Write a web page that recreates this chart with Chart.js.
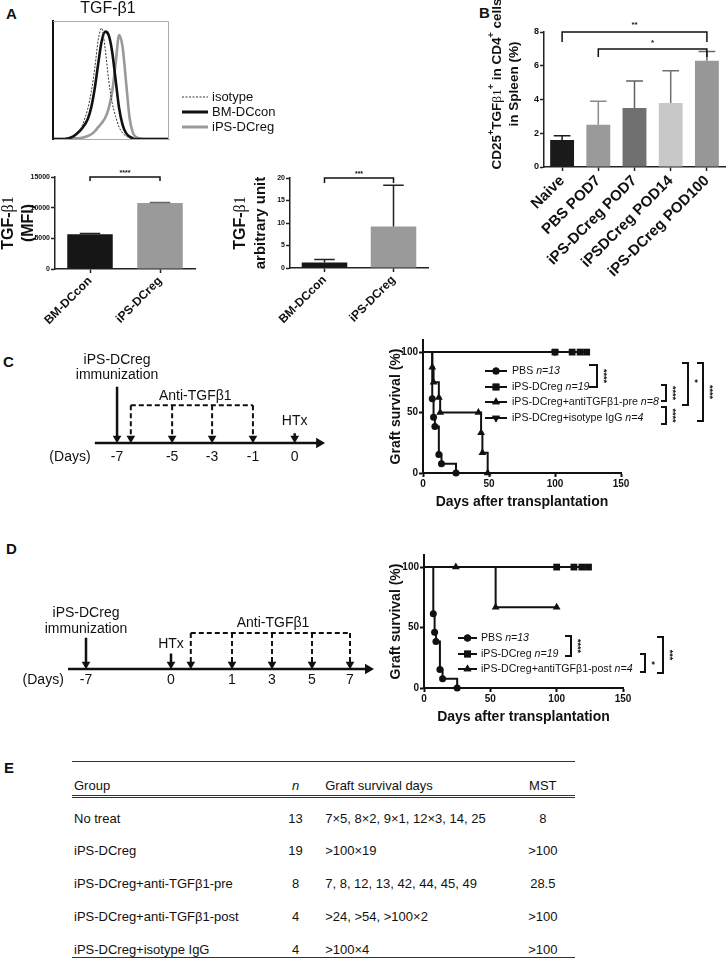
<!DOCTYPE html>
<html>
<head>
<meta charset="utf-8">
<script src="https://cdn.jsdelivr.net/npm/chart.js@4.4.1/dist/chart.umd.min.js"></script>
<style>
  body { margin: 0; background: #fff; width: 727px; height: 958px; position: relative; overflow: hidden;
         font-family: "Liberation Sans", Arial, Helvetica, sans-serif; color: #111; }
  canvas { position: absolute; }
  .panel { position: absolute; font-weight: bold; font-size: 15px; line-height: 16px; }
  #tbl { position: absolute; left: 72px; top: 761px; width: 503px; border-collapse: collapse; font-size: 13px; }
  #tbl th { font-weight: normal; text-align: left; height: 31px; vertical-align: bottom; padding: 0 0 2px 0;
            border-top: 1px solid #333; border-bottom: 3px double #333; }
  #tbl td { height: 33px; vertical-align: top; padding: 13px 0 0 0; box-sizing: border-box; line-height: 15px; }
  #tbl tr:last-child td { height: 29px; border-bottom: 1px solid #333; }
  #tbl .c1 { width: 198px; padding-left: 2px; }
  #tbl .c2 { width: 52px; text-align: center; }
  #tbl .c3 { width: 188px; padding-left: 4px; }
  #tbl .c4 { width: 65px; text-align: center; }
</style>
</head>
<body>
<div class="panel" style="left:6px;top:6px">A</div>
<div class="panel" style="left:479px;top:5px">B</div>
<div class="panel" style="left:3px;top:354px">C</div>
<div class="panel" style="left:6px;top:541px">D</div>
<div class="panel" style="left:4px;top:760px">E</div>

<canvas id="hist" width="295" height="150" style="left:0;top:0"></canvas>
<canvas id="mfi" width="215" height="190" style="left:0;top:150px"></canvas>
<canvas id="arb" width="225" height="190" style="left:215px;top:150px"></canvas>
<canvas id="spleen" width="267" height="310" style="left:460px;top:0"></canvas>
<canvas id="timeC" width="335" height="130" style="left:0;top:340px"></canvas>
<canvas id="survC" width="367" height="185" style="left:360px;top:330px"></canvas>
<canvas id="timeD" width="385" height="110" style="left:0;top:585px"></canvas>
<canvas id="survD" width="367" height="185" style="left:360px;top:545px"></canvas>
<table id="tbl"></table>

<script>
"use strict";

// ---- data ----
const histX = [0, 10, 15, 20, 25, 30, 33, 36, 39, 42, 45, 48, 51, 54, 57, 60, 63, 66, 69, 72, 75, 80, 100];
const histIsotype = [0, 0, 0.5, 3, 11, 26, 40, 60, 84, 94, 76, 50, 31, 19, 10, 5, 2.5, 1, 0.3, 0, 0, 0, 0];
const histBMDCcon = [0, 0, 1, 4, 9, 17, 27, 43, 64, 83, 91, 88, 74, 50, 26, 12, 5, 2, 0.5, 0, 0, 0, 0];
const histIPSDCreg = [0, 0, 0, 0.5, 1, 2.5, 4, 6.5, 10, 13.5, 18, 26, 40, 64, 88, 78, 48, 18, 5, 1.5, 0.5, 0, 0];
const histLegend = ['isotype', 'BM-DCcon', 'iPS-DCreg'];

const aGroups = ['BM-DCcon', 'iPS-DCreg'];
const mfiMean = [5650, 10750];
const mfiSd = [120, 110];
const arbMean = [1.2, 9.2];
const arbSd = [0.7, 9.2];

const bGroups = ['Naive', 'PBS POD7', 'iPS-DCreg POD7', 'iPSDCreg POD14', 'iPS-DCreg POD100'];
const bMean = [1.6, 2.5, 3.5, 3.8, 6.3];
const bSd = [0.25, 1.4, 1.6, 1.9, 0.55];

const pbsDays = [0, 7, 8, 9, 12, 14, 25];
const pbsSurv = [100, 61.5, 46.2, 38.5, 15.4, 7.7, 0];
const dcregDays = [0, 100, 113, 119, 124];
const dcregSurv = [100, 100, 100, 100, 100];
const preDays = [0, 7, 8, 12, 13, 42, 44, 45, 49];
const preSurv = [100, 87.5, 75, 62.5, 50, 50, 33.3, 16.7, 0];
const isoDays = [0, 100];
const isoSurv = [100, 100];
const postDays = [0, 24, 54, 100];
const postSurv = [100, 100, 66.7, 66.7];

const cDayLabels = ['(Days)', '-7', '-5', '-3', '-1', '0'];
const dDayLabels = ['(Days)', '-7', '0', '1', '3', '5', '7'];

const tableGroup = ['No treat', 'iPS-DCreg', 'iPS-DCreg+anti-TGFβ1-pre', 'iPS-DCreg+anti-TGFβ1-post', 'iPS-DCreg+isotype IgG'];
const tableN = ['13', '19', '8', '4', '4'];
const tableDays = ['7×5, 8×2, 9×1, 12×3, 14, 25', '>100×19', '7, 8, 12, 13, 42, 44, 45, 49', '>24, >54, >100×2', '>100×4'];
const tableMST = ['8', '>100', '28.5', '>100', '>100'];

// ---- helpers ----
const SANS = '"Liberation Sans", Arial, Helvetica, sans-serif';
const SERIF = '"Liberation Serif", "Times New Roman", serif';
const fnt = (size, style) => (style ? style + ' ' : '') + size + 'px ' + SANS;
Chart.defaults.font.family = SANS;
Chart.defaults.color = '#111';

function richWidth(ctx, segs) {
	let w = 0;
	segs.forEach(s => { ctx.font = s.f; w += ctx.measureText(s.t).width; });
	return w;
}
function drawRich(ctx, segs, x, y, align, rot) {
	ctx.save();
	ctx.translate(x, y);
	if (rot) ctx.rotate(rot);
	const w = richWidth(ctx, segs);
	let cx = align === 'center' ? -w / 2 : (align === 'right' ? -w : 0);
	ctx.textBaseline = 'middle';
	ctx.textAlign = 'left';
	segs.forEach(s => {
		ctx.font = s.f;
		ctx.fillStyle = s.c || '#111';
		ctx.fillText(s.t, cx, s.dy || 0);
		cx += ctx.measureText(s.t).width;
	});
	ctx.restore();
}
const baseOpts = { responsive: false, animation: false, events: [] };
const noLegend = { legend: { display: false }, tooltip: { enabled: false } };

// ---- A: histogram ----
new Chart(document.getElementById('hist'), {
	type: 'line',
	data: {
		datasets: [
			{ data: histX.map((x, i) => ({ x, y: histIsotype[i] })), borderColor: '#333', borderWidth: 1, borderDash: [2, 1.5] },
			{ data: histX.map((x, i) => ({ x, y: histBMDCcon[i] })), borderColor: '#111', borderWidth: 2.6 },
			{ data: histX.map((x, i) => ({ x, y: histIPSDCreg[i] })), borderColor: '#9a9a9a', borderWidth: 2.6 }
		]
	},
	options: Object.assign({}, baseOpts, {
		elements: { point: { radius: 0 }, line: { tension: 0.4, cubicInterpolationMode: 'monotone', fill: false } },
		layout: { padding: { left: 0, top: 21, right: 126, bottom: 0 } },
		plugins: noLegend,
		scales: {
			x: { type: 'linear', min: 0, max: 100, ticks: { display: false }, grid: { display: false, drawTicks: false },
				border: { color: '#aaa', width: 1 }, afterFit(s) { s.height = 11; } },
			y: { min: 0, max: 100, ticks: { display: false }, grid: { display: false, drawTicks: false },
				border: { color: '#111', width: 2 }, afterFit(s) { s.width = 53; } }
		}
	}),
	plugins: [{
		id: 'histDeco',
		afterDraw(chart) {
			const ctx = chart.ctx, a = chart.chartArea;
			ctx.save();
			ctx.strokeStyle = '#aaa'; ctx.lineWidth = 1;
			ctx.beginPath();
			ctx.moveTo(a.left, a.top + 0.5); ctx.lineTo(a.right - 0.5, a.top + 0.5); ctx.lineTo(a.right - 0.5, a.bottom);
			ctx.stroke();
			drawRich(ctx, [{ t: 'TGF-β1', f: fnt(16) }], 108, 9, 'center');
			const styles = chart.data.datasets;
			histLegend.forEach((name, i) => {
				const y = 97 + i * 15;
				ctx.strokeStyle = styles[i].borderColor;
				ctx.lineWidth = i === 0 ? 1 : 3;
				ctx.setLineDash(i === 0 ? [2, 1.5] : []);
				ctx.beginPath(); ctx.moveTo(182, y); ctx.lineTo(208, y); ctx.stroke();
				ctx.setLineDash([]);
				drawRich(ctx, [{ t: name, f: fnt(13) }], 212, y, 'left');
			});
			ctx.restore();
		}
	}]
});

// ---- bar charts with SD and brackets ----
function makeBar(id, o) {
	const cv = document.getElementById(id), W = cv.width, H = cv.height, a = o.area;
	const deco = {
		id: 'barDeco',
		afterDatasetsDraw(chart) {
			const ctx = chart.ctx, meta = chart.getDatasetMeta(0), ys = chart.scales.y;
			ctx.save();
			meta.data.forEach((bar, i) => {
				const top = ys.getPixelForValue(o.mean[i] + o.sd[i]);
				const hw = bar.width * o.cap / 2;
				ctx.strokeStyle = o.errColors[i]; ctx.lineWidth = 1.5;
				ctx.beginPath();
				ctx.moveTo(bar.x, bar.y); ctx.lineTo(bar.x, top);
				ctx.moveTo(bar.x - hw, top); ctx.lineTo(bar.x + hw, top);
				ctx.stroke();
			});
			o.brackets.forEach(b => {
				const xa = meta.data[b.a].x, xb = meta.data[b.b].x, y = ys.getPixelForValue(b.v);
				ctx.strokeStyle = '#111'; ctx.lineWidth = 1.5;
				ctx.beginPath();
				ctx.moveTo(xa, y + b.drop); ctx.lineTo(xa, y); ctx.lineTo(xb, y); ctx.lineTo(xb, y + b.drop);
				ctx.stroke();
				drawRich(ctx, [{ t: b.label, f: fnt(b.size, 'bold') }], (xa + xb) / 2, y + b.dy, 'center');
			});
			o.ytitle.forEach(t => drawRich(ctx, t.segs, t.x, t.y, 'center', -Math.PI / 2));
			ctx.restore();
		}
	};
	return new Chart(cv, {
		type: 'bar',
		data: { labels: o.labels, datasets: [{ data: o.mean, backgroundColor: o.colors, borderWidth: 0, barPercentage: o.bp, categoryPercentage: 1 }] },
		options: Object.assign({}, baseOpts, {
			layout: { padding: { left: 0, top: a.top, right: W - a.right, bottom: 0 } },
			plugins: noLegend,
			scales: {
				x: {
					grid: { offset: false, drawOnChartArea: false, tickLength: 4, tickColor: '#222', tickWidth: 1.5 },
					border: { color: '#222', width: 1.5 },
					ticks: { autoSkip: false, maxRotation: 45, minRotation: 45, padding: 1, font: { size: o.xFont, weight: 'bold' }, color: '#111' },
					afterFit(s) { s.height = H - a.bottom; }
				},
				y: {
					min: 0, max: o.yMax,
					grid: { drawOnChartArea: false, tickLength: 4, tickColor: '#222', tickWidth: 1.5 },
					border: { color: '#222', width: 1.5 },
					ticks: { stepSize: o.yStep, padding: 1, font: { size: o.yFont, weight: 'bold' }, color: '#111', callback: v => String(v) },
					afterFit(s) { s.width = a.left; }
				}
			}
		}),
		plugins: [deco]
	});
}

const tgfSegs = size => [{ t: 'TGF-', f: fnt(size, 'bold') }, { t: 'β1', f: size + 'px ' + SERIF }];

makeBar('mfi', {
	labels: aGroups, mean: mfiMean, sd: mfiSd, colors: ['#161616', '#9a9a9a'], errColors: ['#222', '#666'],
	area: { left: 55, top: 27, right: 195, bottom: 119 }, bp: 0.65, cap: 0.45,
	yMax: 15000, yStep: 5000, yFont: 7, xFont: 12,
	brackets: [{ a: 0, b: 1, v: 15000, drop: 4, label: '****', size: 7, dy: -4 }],
	ytitle: [{ x: 9, y: 73, segs: tgfSegs(16) }, { x: 29, y: 73, segs: [{ t: '(MFI)', f: fnt(16, 'bold') }] }]
});

makeBar('arb', {
	labels: aGroups, mean: arbMean, sd: arbSd, colors: ['#161616', '#9a9a9a'], errColors: ['#222', '#222'],
	area: { left: 75, top: 28, right: 213, bottom: 118 }, bp: 0.66, cap: 0.45,
	yMax: 20, yStep: 5, yFont: 7, xFont: 12,
	brackets: [{ a: 0, b: 1, v: 20, drop: 5, label: '***', size: 7, dy: -4 }],
	ytitle: [{ x: 26, y: 73, segs: tgfSegs(16) }, { x: 46, y: 73, segs: [{ t: 'arbitrary unit', f: fnt(15, 'bold') }] }]
});

const sup = t => ({ t, f: fnt(9, 'bold'), dy: -5 });
const b13 = t => ({ t, f: fnt(13.5, 'bold') });
makeBar('spleen', {
	labels: bGroups, mean: bMean, sd: bSd,
	colors: ['#1a1a1a', '#9a9a9a', '#707070', '#c8c8c8', '#989898'],
	errColors: ['#1a1a1a', '#8a8a8a', '#606060', '#707070', '#666'],
	area: { left: 84, top: 32, right: 265, bottom: 167 }, bp: 0.66, cap: 0.7,
	yMax: 8, yStep: 2, yFont: 9, xFont: 15,
	brackets: [
		{ a: 0, b: 4, v: 8, drop: 10, label: '**', size: 8, dy: -7 },
		{ a: 1, b: 4, v: 7, drop: 8, label: '*', size: 8, dy: -6 }
	],
	ytitle: [
		{ x: 37, y: 84, segs: [b13('CD25'), sup('+'), b13('TGF'), { t: 'β1', f: '13.5px ' + SERIF }, sup('+'), b13(' in CD4'), sup('+'), b13(' cells')] },
		{ x: 54, y: 84, segs: [b13('in Spleen (%)')] }
	]
});

// ---- timelines ----
function makeTimeline(id, o) {
	const cv = document.getElementById(id), W = cv.width, H = cv.height, a = o.area;
	const arrowDs = (x, y0, dashed) => ({
		data: [{ x, y: y0 }, { x, y: 0.5 }], borderColor: '#111', borderWidth: dashed ? 2 : 2.5,
		borderDash: dashed ? [5, 3] : [], pointRadius: [0, 5], pointStyle: 'triangle', pointRotation: 180,
		pointBackgroundColor: '#111', pointBorderWidth: 0, clip: false
	});
	const ds = [{
		data: [{ x: o.axis[0], y: 0 }, { x: o.axis[1], y: 0 }], borderColor: '#111', borderWidth: 2.5,
		pointRadius: [0, 6], pointStyle: 'triangle', pointRotation: 90, pointBackgroundColor: '#111', pointBorderWidth: 0, clip: false
	}];
	o.solid.forEach(s => ds.push(arrowDs(s.x, s.y0, false)));
	o.dashed.forEach(x => ds.push(arrowDs(x, o.bracketY, true)));
	ds.push({
		data: [{ x: o.dashed[0], y: o.bracketY }, { x: o.dashed[o.dashed.length - 1], y: o.bracketY }],
		borderColor: '#111', borderWidth: 2, borderDash: [5, 3], pointRadius: 0, clip: false
	});
	return new Chart(cv, {
		type: 'line',
		data: { datasets: ds },
		options: Object.assign({}, baseOpts, {
			layout: { padding: { left: a.left, top: a.top, right: W - a.right, bottom: 0 } },
			plugins: noLegend,
			scales: {
				x: {
					type: 'linear', min: o.xMin, max: o.xMax, grid: { display: false, drawTicks: false }, border: { display: false },
					afterBuildTicks(s) { s.ticks = o.tickSlots.map(v => ({ value: v })); },
					ticks: { autoSkip: false, maxRotation: 0, padding: o.tickPad, font: { size: 14 }, color: '#111',
						callback: (v, i) => o.tickLabels[i] },
					afterFit(s) { s.height = H - a.bottom; }
				},
				y: { display: false, min: 0, max: o.yMax }
			}
		}),
		plugins: [{
			id: 'tlNotes',
			afterDraw(chart) {
				const xs = chart.scales.x, ys = chart.scales.y;
				o.notes.forEach(n => drawRich(chart.ctx, [{ t: n.t, f: fnt(14) }], xs.getPixelForValue(n.x), ys.getPixelForValue(n.y), 'center'));
			}
		}]
	});
}

makeTimeline('timeC', {
	area: { left: 46, right: 328, top: 3, bottom: 103 }, xMin: -1.6, xMax: 4.75, yMax: 10, tickPad: 6,
	tickLabels: cDayLabels, tickSlots: [-1.06, 0, 1.24, 2.14, 3.06, 4.0],
	axis: [-0.5, 4.55],
	solid: [{ x: 0, y0: 5.8 }, { x: 4.0, y0: 1.0 }],
	dashed: [0.31, 1.24, 2.14, 3.06], bracketY: 3.9,
	notes: [{ t: 'iPS-DCreg', x: 0, y: 8.5 }, { t: 'immunization', x: 0, y: 7.0 },
		{ t: 'Anti-TGFβ1', x: 1.76, y: 4.8 }, { t: 'HTx', x: 4.0, y: 2.3 }]
});

makeTimeline('timeD', {
	area: { left: 22, right: 378, top: 4, bottom: 84 }, xMin: -1.6, xMax: 7.3, yMax: 8, tickPad: 3,
	tickLabels: dDayLabels, tickSlots: [-1.07, 0, 2.125, 3.65, 4.65, 5.65, 6.6],
	axis: [-0.45, 7.05],
	solid: [{ x: 0, y0: 3.2 }, { x: 2.125, y0: 1.6 }],
	dashed: [2.62, 3.65, 4.65, 5.65, 6.6], bracketY: 3.7,
	notes: [{ t: 'iPS-DCreg', x: 0, y: 5.7 }, { t: 'immunization', x: 0, y: 4.1 },
		{ t: 'Anti-TGFβ1', x: 4.675, y: 4.7 }, { t: 'HTx', x: 2.125, y: 2.6 }]
});

// ---- survival curves ----
function makeSurv(id, o) {
	const cv = document.getElementById(id), W = cv.width, H = cv.height, a = o.area;
	const ds = o.series.map(s => ({
		data: s.days.map((d, i) => ({ x: d, y: s.surv[i] })),
		stepped: true, borderColor: '#111', borderWidth: 2, fill: false, clip: false,
		pointStyle: s.marker, pointRotation: s.rot || 0, pointRadius: s.days.map((d, i) => i === 0 ? 0 : s.r),
		pointBackgroundColor: '#111', pointBorderColor: '#111', pointBorderWidth: 0
	}));
	return new Chart(cv, {
		type: 'line',
		data: { datasets: ds },
		options: Object.assign({}, baseOpts, {
			layout: { padding: { left: 0, top: a.top, right: W - a.right, bottom: 0 } },
			plugins: noLegend,
			scales: {
				x: {
					type: 'linear', min: 0, max: 150,
					grid: { drawOnChartArea: false, tickLength: 4, tickColor: '#111', tickWidth: 2 },
					border: { color: '#111', width: 2 },
					ticks: { stepSize: 50, padding: 1, font: { size: 10, weight: 'bold' }, color: '#111' },
					afterFit(s) { s.height = H - a.bottom; }
				},
				y: {
					min: 0, max: 110,
					afterBuildTicks(s) { s.ticks = [0, 50, 100].map(v => ({ value: v })); },
					grid: { drawOnChartArea: false, tickLength: 4, tickColor: '#111', tickWidth: 2 },
					border: { color: '#111', width: 2 },
					ticks: { padding: 1, font: { size: 10, weight: 'bold' }, color: '#111' },
					afterFit(s) { s.width = a.left; }
				}
			}
		}),
		plugins: [{
			id: 'survDeco',
			afterDraw(chart) {
				const ctx = chart.ctx, ca = chart.chartArea;
				ctx.save();
				drawRich(ctx, [{ t: 'Graft survival (%)', f: fnt(14, 'bold') }], o.yTitleX, (ca.top + ca.bottom) / 2, 'center', -Math.PI / 2);
				drawRich(ctx, [{ t: 'Days after transplantation', f: fnt(14, 'bold') }], (ca.left + ca.right) / 2, o.xTitleY, 'center');
				const L = o.legend;
				L.items.forEach((it, i) => {
					const y = L.rows[i], s = o.series[it.s];
					ctx.strokeStyle = '#111'; ctx.lineWidth = 2;
					ctx.beginPath(); ctx.moveTo(L.x0, y); ctx.lineTo(L.x1, y); ctx.stroke();
					ctx.fillStyle = '#111';
					Chart.helpers.drawPoint(ctx, { pointStyle: s.marker, rotation: s.rot || 0, radius: s.r, borderWidth: 0 }, (L.x0 + L.x1) / 2, y);
					ctx.fill();
					drawRich(ctx, [{ t: it.name + ' ', f: fnt(10.6) }, { t: it.n, f: fnt(10.6, 'italic') }], L.tx, y, 'left');
				});
				o.brackets.forEach(b => {
					ctx.strokeStyle = '#111'; ctx.lineWidth = 2;
					ctx.beginPath();
					ctx.moveTo(b.x - b.arm, b.y1); ctx.lineTo(b.x, b.y1); ctx.lineTo(b.x, b.y2); ctx.lineTo(b.x - b.arm, b.y2);
					ctx.stroke();
					drawRich(ctx, [{ t: b.label, f: fnt(9, 'bold') }], b.x + b.lx, (b.y1 + b.y2) / 2 + (b.ly || 0), 'center', Math.PI / 2);
				});
				ctx.restore();
			}
		}]
	});
}

const pbsSeries = { days: pbsDays, surv: pbsSurv, marker: 'circle', r: 3.5 };
const dcregSeries = { days: dcregDays, surv: dcregSurv, marker: 'rect', r: 4.8 };

makeSurv('survC', {
	area: { left: 63, top: 10, right: 261, bottom: 143 }, yTitleX: 36, xTitleY: 172,
	series: [
		{ days: isoDays, surv: isoSurv, marker: 'triangle', rot: 180, r: 4.5 },
		dcregSeries,
		{ days: preDays, surv: preSurv, marker: 'triangle', r: 4.5 },
		pbsSeries
	],
	legend: {
		x0: 125, x1: 147, tx: 152, rows: [41, 57, 72, 88],
		items: [{ s: 3, name: 'PBS', n: 'n=13' }, { s: 1, name: 'iPS-DCreg', n: 'n=19' },
			{ s: 2, name: 'iPS-DCreg+antiTGFβ1-pre', n: 'n=8' }, { s: 0, name: 'iPS-DCreg+isotype IgG', n: 'n=4' }]
	},
	brackets: [
		{ x: 237, y1: 35, y2: 57, arm: 8, label: '****', lx: 6 },
		{ x: 306, y1: 55, y2: 71, arm: 5, label: '****', lx: 6 },
		{ x: 306, y1: 77, y2: 94, arm: 5, label: '****', lx: 6 },
		{ x: 328, y1: 33, y2: 75, arm: 6, label: '*', lx: 6, ly: -3 },
		{ x: 343, y1: 33, y2: 91, arm: 6, label: '****', lx: 6 }
	]
});

makeSurv('survD', {
	area: { left: 64, top: 10, right: 263, bottom: 143 }, yTitleX: 36, xTitleY: 172,
	series: [
		dcregSeries,
		{ days: postDays, surv: postSurv, marker: 'triangle', r: 4.5 },
		pbsSeries
	],
	legend: {
		x0: 98, x1: 117, tx: 121, rows: [93, 109, 124],
		items: [{ s: 2, name: 'PBS', n: 'n=13' }, { s: 0, name: 'iPS-DCreg', n: 'n=19' },
			{ s: 1, name: 'iPS-DCreg+antiTGFβ1-post', n: 'n=4' }]
	},
	brackets: [
		{ x: 211, y1: 91, y2: 111, arm: 6, label: '****', lx: 6 },
		{ x: 285, y1: 109, y2: 127, arm: 5, label: '*', lx: 6 },
		{ x: 303, y1: 92, y2: 128, arm: 6, label: '***', lx: 6 }
	]
});

// ---- E: table ----
const tbl = document.getElementById('tbl');
let html = '<tr><th class="c1">Group</th><th class="c2" style="text-align:center"><i>n</i></th><th class="c3">Graft survival days</th><th class="c4" style="text-align:center">MST</th></tr>';
tableGroup.forEach((g, i) => {
	html += '<tr><td class="c1">' + g + '</td><td class="c2">' + tableN[i] + '</td><td class="c3">' +
		tableDays[i].replace(/>/g, '&gt;') + '</td><td class="c4">' + tableMST[i].replace(/>/g, '&gt;') + '</td></tr>';
});
tbl.innerHTML = html;
</script>
</body>
</html>
